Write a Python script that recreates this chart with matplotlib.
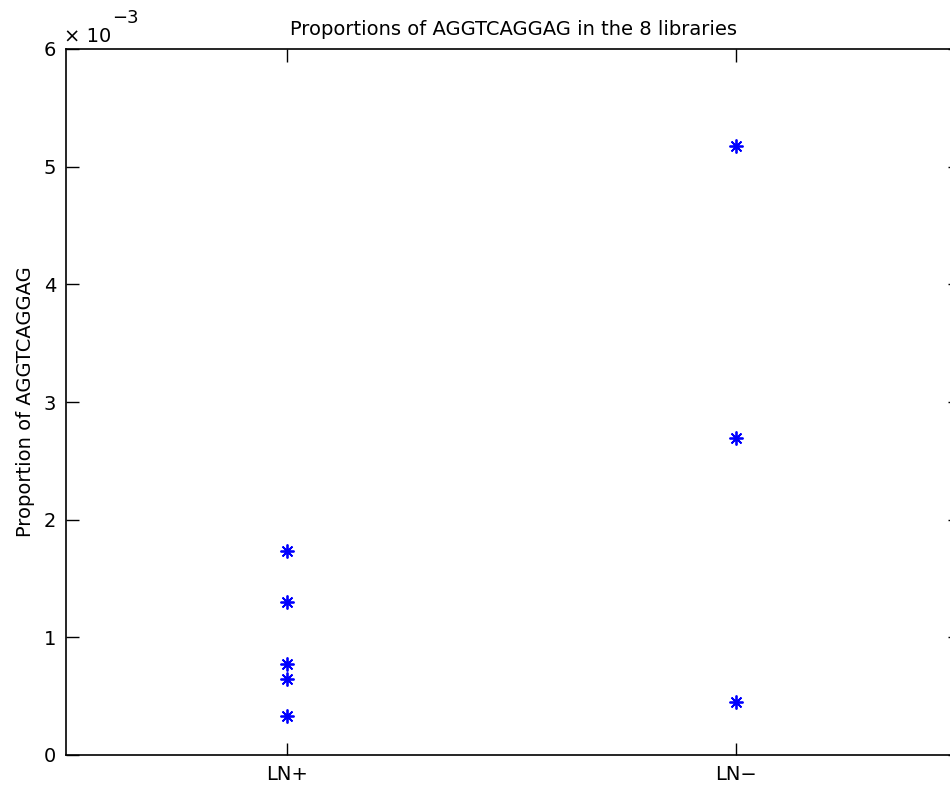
import matplotlib
matplotlib.use("Agg")
import matplotlib.pyplot as plt
from matplotlib.ticker import FixedLocator, FuncFormatter
import numpy as np

plt.rcParams['font.family'] = ['DejaVu Sans']

categories = ["LN+", "LN\u2212"]
ln_plus = [1.731e-3, 1.300e-3, 0.773e-3, 0.643e-3, 0.334e-3]
ln_minus = [5.176e-3, 2.694e-3, 0.450e-3]
yticks = [0, 1e-3, 2e-3, 3e-3, 4e-3, 5e-3, 6e-3]
scale_exp = -3

fig = plt.figure(figsize=(9.5, 7.87), dpi=100)
ax = fig.add_axes([66/950, 32/787, 894/950, 706/787])

groups = [ln_plus, ln_minus]
for i, vals in enumerate(groups, start=1):
    xs = np.full(len(vals), i)
    ax.plot(xs, vals, linestyle='none', marker=(8, 2, 0), color='blue',
            markersize=10, markeredgewidth=1.3)

ax.set_xlim(0.507, 2.5)
ax.set_ylim(0, 6e-3)
ax.set_xticks([1, 2])
ax.set_xticklabels(categories)
ax.yaxis.set_major_locator(FixedLocator(yticks))
ax.yaxis.set_major_formatter(FuncFormatter(lambda v, p: f"{v / 10**scale_exp:g}"))
ax.tick_params(direction='in', length=9, width=1, labelsize=14,
               top=True, right=True)
ax.tick_params(axis='x', pad=7)
ax.tick_params(axis='y', pad=7)
for s in ax.spines.values():
    s.set_linewidth(1.2)
ax.set_ylabel("Proportion of AGGTCAGGAG", fontsize=14, labelpad=6)
ax.set_title("Proportions of AGGTCAGGAG in the 8 libraries", fontsize=14, pad=10)

ax.annotate("\u00d7 10", xy=(0.0, 1.0), xycoords='axes fraction',
            xytext=(-2, 7), textcoords='offset pixels', fontsize=14,
            ha='left', va='baseline')
ax.annotate("\u2212" + str(-scale_exp).join(["", ""]) if False else f"\u2212{-scale_exp}",
            xy=(0.0, 1.0), xycoords='axes fraction',
            xytext=(46, 26), textcoords='offset pixels', fontsize=13,
            ha='left', va='baseline')

fig.savefig("out.png", dpi=100)
